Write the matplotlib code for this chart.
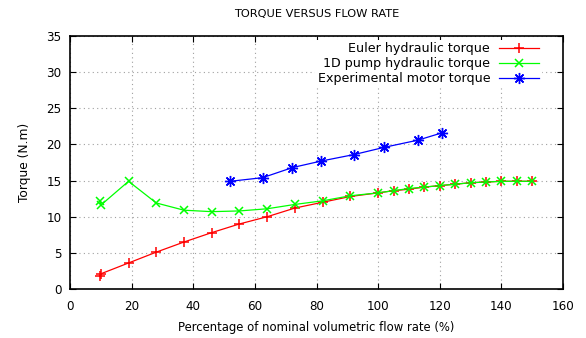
import matplotlib
matplotlib.use("Agg")
import matplotlib.pyplot as plt

euler_x = [9.7, 10, 19, 28, 37, 46, 55, 64, 73, 82, 91, 100, 105, 110, 115, 120, 125, 130, 135, 140, 145, 150]
euler_y = [1.8, 2.1, 3.6, 5.1, 6.5, 7.8, 9.0, 10.0, 11.2, 12.0, 12.8, 13.3, 13.6, 13.8, 14.1, 14.3, 14.5, 14.7, 14.8, 14.9, 14.9, 14.9]

pump_x = [9.7, 10, 19, 28, 37, 46, 55, 64, 73, 82, 91, 100, 105, 110, 115, 120, 125, 130, 135, 140, 145, 150]
pump_y = [12.2, 11.6, 14.9, 11.9, 10.9, 10.7, 10.8, 11.1, 11.7, 12.2, 12.9, 13.3, 13.6, 13.9, 14.1, 14.3, 14.5, 14.7, 14.8, 14.9, 14.9, 14.9]

exp_x = [52, 62.5, 72.2, 81.5, 92.2, 102, 113, 120.7]
exp_y = [14.9, 15.4, 16.8, 17.7, 18.6, 19.6, 20.6, 21.6]

labels = ["Euler hydraulic torque", "1D pump hydraulic torque", "Experimental motor torque"]

plt.rcParams['font.family'] = ['DejaVu Sans']
plt.rcParams['font.size'] = 8.2

fig = plt.figure(figsize=(5.86, 3.38), dpi=100)
ax = fig.add_axes([70/586, 1-289/338, (563-70)/586, (289-36)/338])

ax.plot(euler_x, euler_y, color='#ff0000', lw=0.9, marker='+', ms=6.5, mew=1.1, label=labels[0])
ax.plot(pump_x, pump_y, color='#00ff00', lw=0.9, marker='x', ms=5.5, mew=1.1, label=labels[1])
ax.plot(exp_x, exp_y, color='#0000ff', lw=0.9, marker=(8, 2, 0), ms=8, mew=1.0, label=labels[2])

ax.set_xlim(0, 160)
ax.set_ylim(0, 35)
ax.set_xticks(range(0, 161, 20))
ax.set_yticks(range(0, 36, 5))
ax.grid(True, color='#a0a0a0', linestyle=(0, (1, 3)), linewidth=0.8)
ax.tick_params(direction='in', top=True, right=True, length=4, width=0.8, labelsize=8.6)
ax.tick_params(axis='x', pad=8)
ax.tick_params(axis='y', pad=6)
for s in ax.spines.values():
    s.set_linewidth(1.2)

ax.set_xlabel("Percentage of nominal volumetric flow rate (%)", labelpad=5.5, fontsize=8.4)
ax.set_ylabel("Torque (N.m)", labelpad=11, fontsize=8.8)
fig.text((70+563)/2/586, 1-14/338, "TORQUE VERSUS FLOW RATE", ha='center', va='center')

leg = ax.legend(loc='upper right', markerfirst=False, frameon=True, framealpha=1,
                edgecolor='none', facecolor='white', fancybox=False, fontsize=9.1,
                handlelength=3.2, handletextpad=0.7, borderpad=0.2, borderaxespad=0.3,
                labelspacing=0.15, bbox_to_anchor=(0.965, 1.0))
for t in leg.get_texts():
    t.set_ha('right')

fig.savefig("out.png", dpi=100)
